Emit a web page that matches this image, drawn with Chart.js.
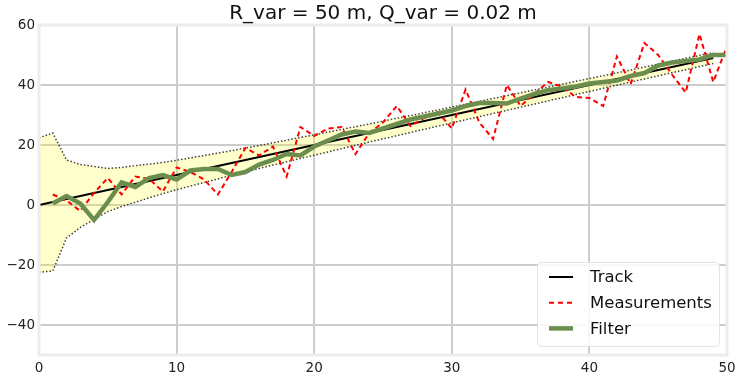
<!DOCTYPE html>
<html>
<head>
<meta charset="utf-8">
<script src="https://cdn.jsdelivr.net/npm/chart.js@4/dist/chart.umd.min.js"></script>
<style>
  html, body { margin: 0; padding: 0; background: #fff; }
  #wrap { width: 742px; height: 380px; }
</style>
</head>
<body>
<div id="wrap"><canvas id="kfChart" width="742" height="380"></canvas></div>
<script>
// ---- data ----
const titleText = "R_var = 50 m, Q_var = 0.02 m";

// actual track, time 0..49
const trackTime = [0,1,2,3,4,5,6,7,8,9,10,11,12,13,14,15,16,17,18,19,20,21,22,23,24,
  25,26,27,28,29,30,31,32,33,34,35,36,37,38,39,40,41,42,43,44,45,46,47,48,49];
const trackPos = [0,1,2,3,4,5,6,7,8,9,10,11,12,13,14,15,16,17,18,19,20,21,22,23,24,
  25,26,27,28,29,30,31,32,33,34,35,36,37,38,39,40,41,42,43,44,45,46,47,48,49];

// 1 sigma of the filter around the track
const trackStd = [22.4, 23, 13, 10.5, 8.8, 7.2, 6.5, 6.1, 5.6, 5.2, 4.9, 4.7, 4.5, 4.3, 4.1,
  4.0, 3.8, 3.7, 3.6, 3.5, 3.4, 3.3, 3.2, 3.1, 3.0, 2.95, 2.9, 2.8, 2.75, 2.7, 2.65, 2.6,
  2.55, 2.5, 2.45, 2.4, 2.35, 2.3, 2.25, 2.2, 2.15, 2.1, 2.05, 2.0, 2.0, 1.95, 1.9, 1.9, 1.85, 1.8];

// measurements and filter output, time 1..50
const stepTime = [1,2,3,4,5,6,7,8,9,10,11,12,13,14,15,16,17,18,19,20,21,22,23,24,25,
  26,27,28,29,30,31,32,33,34,35,36,37,38,39,40,41,42,43,44,45,46,47,48,49,50];
const measurements = [3.5, 1.5, -2, 4, 9, 3.5, 9.5, 8.7, 4.5, 12.5, 11, 8.5, 3.5, 11, 19,
  16.5, 19.5, 9.5, 26, 23, 25.5, 26, 17, 24, 27.5, 33, 26.3, 29, 31, 25.5, 38.5, 27.5,
  22, 40, 33, 37, 41, 39.5, 36, 35.7, 33, 49.5, 40.3, 54, 50, 43.5, 37.5, 57, 41, 53];
const filterPos = [0.5, 3, 0.5, -5, 1, 7.5, 6, 9, 10, 8.5, 11.5, 12, 12, 10, 11, 13.5, 15,
  17, 16.5, 19.5, 21.5, 23.5, 24.5, 24, 25.5, 27, 28.5, 29.5, 30.5, 31.5, 33, 34, 34,
  33.8, 35.5, 37, 38.3, 38.8, 39.5, 40.5, 41, 41.5, 43, 44, 46.5, 47.5, 48, 48.5, 50, 50];

const xTicks = [0, 10, 20, 30, 40, 50];
const yTicks = [-40, -20, 0, 20, 40, 60];

const FONT = "'DejaVu Sans', 'Liberation Sans', sans-serif";
const GREEN = "#6b8e4f";

function pts(xs, ys) {
  return xs.map((x, i) => ({ x: x, y: ys[i] }));
}
const stdTop = trackPos.map((v, i) => v + trackStd[i]);
const stdBtm = trackPos.map((v, i) => v - trackStd[i]);

// spines, title and legend
const decorPlugin = {
  id: "decor",
  afterDatasetsDraw(chart) {
    const ctx = chart.ctx;
    const a = chart.chartArea;
    ctx.save();
    ctx.strokeStyle = "#ececec";
    ctx.lineWidth = 3;
    ctx.strokeRect(a.left, a.top, a.right - a.left, a.bottom - a.top);
    ctx.restore();
  },
  afterDraw(chart) {
    const ctx = chart.ctx;
    const a = chart.chartArea;
    ctx.save();
    // title
    ctx.fillStyle = "#111";
    ctx.font = "20px " + FONT;
    ctx.textAlign = "center";
    ctx.textBaseline = "middle";
    ctx.fillText(titleText, (a.left + a.right) / 2, 14);

    // legend box
    const bx = 537.5, by = 262.5, bw = 182, bh = 84, r = 4;
    ctx.beginPath();
    ctx.moveTo(bx + r, by);
    ctx.arcTo(bx + bw, by, bx + bw, by + bh, r);
    ctx.arcTo(bx + bw, by + bh, bx, by + bh, r);
    ctx.arcTo(bx, by + bh, bx, by, r);
    ctx.arcTo(bx, by, bx + bw, by, r);
    ctx.closePath();
    ctx.fillStyle = "rgba(255,255,255,0.85)";
    ctx.fill();
    ctx.strokeStyle = "#e4e4e4";
    ctx.lineWidth = 1;
    ctx.stroke();

    const items = [
      { label: "Track", color: "#000", width: 2, dash: [] },
      { label: "Measurements", color: "#ff0000", width: 2, dash: [5, 4] },
      { label: "Filter", color: GREEN, width: 4.5, dash: [] }
    ];
    ctx.font = "16.5px " + FONT;
    ctx.textAlign = "left";
    ctx.textBaseline = "middle";
    items.forEach((it, i) => {
      const y = 277 + i * 25.7;
      ctx.beginPath();
      ctx.setLineDash(it.dash);
      ctx.strokeStyle = it.color;
      ctx.lineWidth = it.width;
      ctx.moveTo(549, y);
      ctx.lineTo(573, y);
      ctx.stroke();
      ctx.setLineDash([]);
      ctx.fillStyle = "#111";
      ctx.fillText(it.label, 590, y + 1);
    });
    ctx.restore();
  }
};

new Chart(document.getElementById("kfChart"), {
  type: "line",
  data: {
    datasets: [
      {
        label: "Filter",
        data: pts(stepTime, filterPos),
        borderColor: GREEN,
        borderWidth: 4.5,
        pointRadius: 0,
        fill: false
      },
      {
        label: "Measurements",
        data: pts(stepTime, measurements),
        borderColor: "#ff0000",
        borderWidth: 2,
        borderDash: [5, 3.5],
        pointRadius: 0,
        fill: false
      },
      {
        label: "Track",
        data: pts(trackTime, trackPos),
        borderColor: "#000",
        borderWidth: 1.8,
        pointRadius: 0,
        fill: false
      },
      {
        label: "std top",
        data: pts(trackTime, stdTop),
        borderColor: "rgba(0,0,0,0.75)",
        borderWidth: 1.5,
        borderDash: [1.5, 2],
        pointRadius: 0,
        fill: "+1",
        backgroundColor: "rgba(255,255,0,0.2)"
      },
      {
        label: "std btm",
        data: pts(trackTime, stdBtm),
        borderColor: "rgba(0,0,0,0.75)",
        borderWidth: 1.5,
        borderDash: [1.5, 2],
        pointRadius: 0,
        fill: false
      }
    ]
  },
  options: {
    responsive: false,
    animation: false,
    events: [],
    layout: { padding: { left: 0, right: 15, top: 25, bottom: 0 } },
    elements: { line: { tension: 0 } },
    plugins: {
      legend: { display: false },
      title: { display: false },
      tooltip: { enabled: false },
      filler: { drawTime: "beforeDatasetsDraw" }
    },
    scales: {
      x: {
        type: "linear",
        min: 0,
        max: 50,
        afterFit(s) { s.height = 25; },
        afterBuildTicks(s) { s.ticks = xTicks.map(v => ({ value: v })); },
        grid: { color: "#cccccc", lineWidth: 2, drawTicks: false },
        border: { display: false },
        ticks: {
          padding: 5,
          color: "#222",
          font: { family: FONT, size: 13.5 },
          maxRotation: 0
        }
      },
      y: {
        min: -50,
        max: 60,
        afterFit(s) { s.width = 39; },
        afterBuildTicks(s) { s.ticks = yTicks.map(v => ({ value: v })); },
        grid: { color: "#cccccc", lineWidth: 2, drawTicks: false },
        border: { display: false },
        ticks: {
          padding: 4,
          color: "#222",
          font: { family: FONT, size: 13.5 },
          callback: (v) => String(v).replace("-", "\u2212")
        }
      }
    }
  },
  plugins: [decorPlugin]
});
</script>
</body>
</html>
